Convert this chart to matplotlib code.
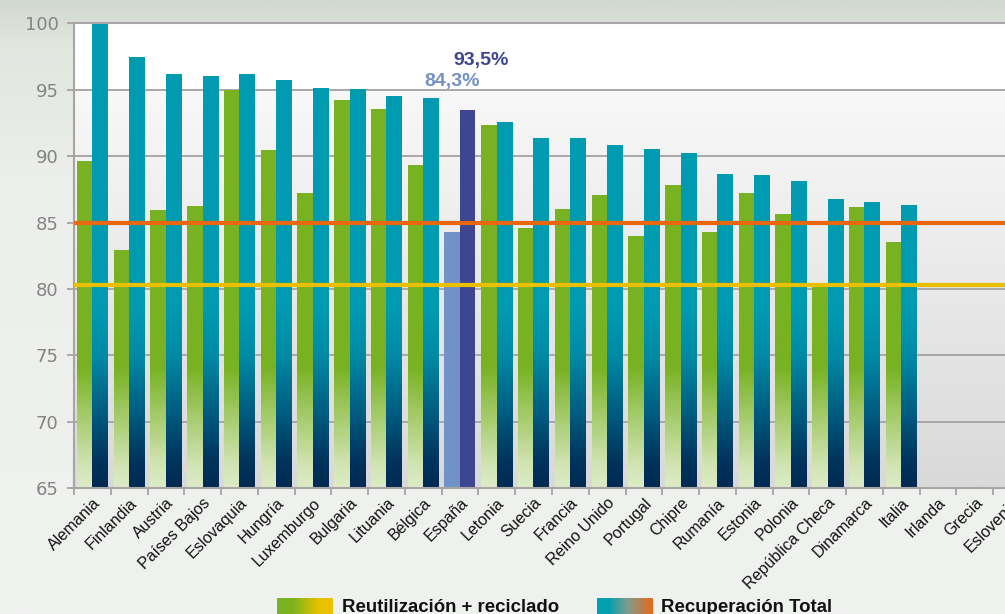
import numpy as np
import matplotlib.pyplot as plt
from matplotlib.colors import LinearSegmentedColormap, to_rgb

# Datos
paises = ['Alemania', 'Finlandia', 'Austria', 'Países Bajos', 'Eslovaquia', 'Hungría',
          'Luxemburgo', 'Bulgaria', 'Lituania', 'Bélgica', 'España', 'Letonia', 'Suecia',
          'Francia', 'Reino Unido', 'Portugal', 'Chipre', 'Rumanía', 'Estonia', 'Polonia',
          'República Checa', 'Dinamarca', 'Italia', 'Irlanda', 'Grecia', 'Eslovenia']
reciclado = [89.6, 82.9, 85.9, 86.2, 94.9, 90.4, 87.2, 94.2, 93.5, 89.3, 84.3, 92.3, 84.5,
             86.0, 87.0, 83.9, 87.8, 84.2, 87.2, 85.6, 80.3, 86.1, 83.5,
             np.nan, np.nan, np.nan]
recuperacion = [100.0, 97.4, 96.1, 96.0, 96.1, 95.7, 95.1, 95.0, 94.5, 94.3, 93.5, 92.5, 91.3,
                91.3, 90.8, 90.5, 90.2, 88.6, 88.5, 88.1, 86.7, 86.5, 86.3,
                np.nan, np.nan, np.nan]
objetivo_reciclado = 80.3
objetivo_recuperacion = 85.0
destacado = 'España'
etiquetas_destacado = ['84,3%', '93,5%']

YMIN, YMAX = 65, 100
W, H = 1005, 614


def cmap_valores(stops):
    # stops: lista de (valor, color) -> colormap en coordenadas de datos
    return LinearSegmentedColormap.from_list(
        '', [((v - YMIN) / (YMAX - YMIN), c) for v, c in stops])


cmap_verde = cmap_valores([(65, '#DDEBC6'), (66.5, '#D3E5B6'), (74, '#78B223'), (100, '#78B223')])
cmap_azul = cmap_valores([(65, '#002A52'), (67, '#00345D'), (70.5, '#005B80'),
                          (75, '#008BA5'), (78.5, '#009BB1'), (100, '#009BB1')])


def barra_degradado(ax, x0, x1, top, cmap):
    ys = np.linspace(top, YMIN, 300)
    img = cmap((ys - YMIN) / (YMAX - YMIN))[:, None, :]
    ax.imshow(img, extent=(x0, x1, YMIN, top), aspect='auto', origin='upper',
              interpolation='bilinear', zorder=2)


fig = plt.figure(figsize=(W / 100, H / 100), dpi=100)

# Fondo de la figura
bg = fig.add_axes([0, 0, 1, 1], zorder=-5)
cmap_fondo = LinearSegmentedColormap.from_list(
    '', [(0, '#D2D9CF'), (0.07, '#E1E6DF'), (0.3, '#ECEFEB'), (1, '#F0F2F0')])
bg.imshow(cmap_fondo(np.linspace(0, 1, 300))[:, None, :], extent=(0, 1, 0, 1),
          aspect='auto', origin='upper')
bg.set_axis_off()

ax = fig.add_axes([74 / W, (H - 488.3) / H, 956 / W, 465 / H])

# Fondo del área de trazado
cmap_area = cmap_valores([(65, '#D9D9D9'), (95, '#F8F8F8'), (95.01, '#FFFFFF'), (100, '#FFFFFF')])
ys = np.linspace(YMAX, YMIN, 400)
ax.imshow(cmap_area((ys - YMIN) / (YMAX - YMIN))[:, None, :], extent=(0, len(paises), YMIN, YMAX),
          aspect='auto', origin='upper', zorder=0)

for y in range(70, 100, 5):
    ax.axhline(y, color='#ABA7A9', lw=1.4, zorder=1)

for i, p in enumerate(paises):
    r, t = reciclado[i], recuperacion[i]
    if np.isnan(r):
        continue
    if p == destacado:
        ax.bar(i + 0.075, r - YMIN, width=0.42, bottom=YMIN, align='edge',
               color='#7192C6', zorder=2)
        ax.bar(i + 0.495, t - YMIN, width=0.42, bottom=YMIN, align='edge',
               color='#3E4692', zorder=2)
        ax.text(i + 0.285, 95.25, etiquetas_destacado[0], ha='center', va='baseline',
                fontsize=14, weight='bold', color='#7391C6', family='Liberation Sans', zorder=5)
        ax.text(i + 1.07, 96.86, etiquetas_destacado[1], ha='center', va='baseline',
                fontsize=14, weight='bold', color='#3D4592', family='Liberation Sans', zorder=5)
    else:
        barra_degradado(ax, i + 0.075, i + 0.495, r, cmap_verde)
        barra_degradado(ax, i + 0.495, i + 0.915, t, cmap_azul)

# Objetivos
ax.axhline(objetivo_recuperacion, color='#E8670F', lw=3, zorder=4)
ax.axhline(objetivo_reciclado, color='#E9BF00', lw=3, zorder=4)

ax.set_xlim(0, len(paises))
ax.set_ylim(YMIN, YMAX)
ax.set_yticks(range(65, 101, 5))
ax.set_xticks(np.arange(len(paises)) + 0.5)
ax.set_xticklabels(paises, rotation=45, ha='right', rotation_mode='anchor',
                   fontsize=11.5, family='Liberation Sans', color='#111111')
ax.set_xticks(np.arange(len(paises) + 1), minor=True)
ax.tick_params(axis='x', which='major', length=0, pad=5)
ax.tick_params(axis='x', which='minor', length=5, width=1.3, color='#A8A3A5', direction='out')
ax.tick_params(axis='y', length=5, width=1.3, color='#A8A3A5', labelcolor='#878284',
               labelsize=13, pad=6)

for s in ['left', 'bottom', 'top']:
    ax.spines[s].set_color('#A8A3A5')
    ax.spines[s].set_linewidth(1.5)
ax.spines['right'].set_visible(False)

# Leyenda
cmap_ley1 = LinearSegmentedColormap.from_list('', [(0, '#78B223'), (0.3, '#80B41E'), (0.75, '#E8C100'), (1, '#EAC200')])
cmap_ley2 = LinearSegmentedColormap.from_list('', [(0, '#00A0B0'), (0.2, '#00A0B0'), (0.55, '#7F9B8E'), (1, '#E8681A')])
for x0, cm in [(277, cmap_ley1), (597, cmap_ley2)]:
    sw = fig.add_axes([x0 / W, 0, 56 / W, 16 / H])
    sw.imshow(cm(np.linspace(0, 1, 200))[None, :, :], aspect='auto', extent=(0, 1, 0, 1))
    sw.set_axis_off()

fig.text(342 / W, (H - 611.5) / H, 'Reutilización + reciclado', fontsize=13.4, weight='bold',
         family='Liberation Sans', va='baseline', color='#111111')
fig.text(661 / W, (H - 611.5) / H, 'Recuperación Total', fontsize=13.4, weight='bold',
         family='Liberation Sans', va='baseline', color='#111111')

fig.savefig('out.png', dpi=100)
